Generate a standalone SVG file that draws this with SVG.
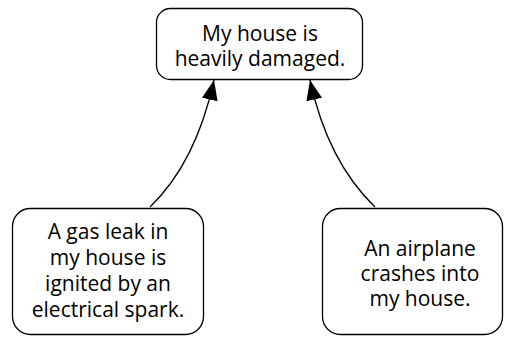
<svg xmlns="http://www.w3.org/2000/svg" width="505" height="337" viewBox="0 0 505 337">
  <style>
    .node rect { fill: #fff; stroke: #000; stroke-width: 1.3; }
    .node text { font-family: "Open Sans", "Noto Sans", sans-serif; font-size: 21px; fill: #000; text-anchor: middle; }
    .edge { fill: none; stroke: #000; stroke-width: 1.3; marker-end: url(#arrow); }
  </style>
  <defs>
    <marker id="arrow" viewBox="0 0 20 16" refX="20" refY="8" markerWidth="20" markerHeight="16" markerUnits="userSpaceOnUse" orient="auto">
      <path d="M0,0 L20,8 L0,16 Z" fill="#000"/>
    </marker>
  </defs>
  <rect width="505" height="337" fill="#fff"/>

  <g id="connectors">
    <path class="edge" d="M150,207 C178,180 201,140 214,80"/>
    <path class="edge" d="M375,207 C347,180 323,140 310,80"/>
  </g>

  <g id="damaged" class="node">
    <rect x="156.5" y="8.5" width="206" height="71" rx="14"/>
    <text x="260" y="41">My house is</text>
    <text x="260" y="66">heavily damaged.</text>
  </g>

  <g id="gasleak" class="node">
    <rect x="12.5" y="208.5" width="191" height="126" rx="18"/>
    <text x="108" y="239">A gas leak in</text>
    <text x="108" y="265">my house is</text>
    <text x="108" y="291">ignited by an</text>
    <text x="108" y="317">electrical spark.</text>
  </g>

  <g id="airplane" class="node">
    <rect x="322.5" y="208.5" width="180" height="126" rx="18"/>
    <text x="420" y="256">An airplane</text>
    <text x="420" y="281">crashes into</text>
    <text x="420" y="306">my house.</text>
  </g>
</svg>
